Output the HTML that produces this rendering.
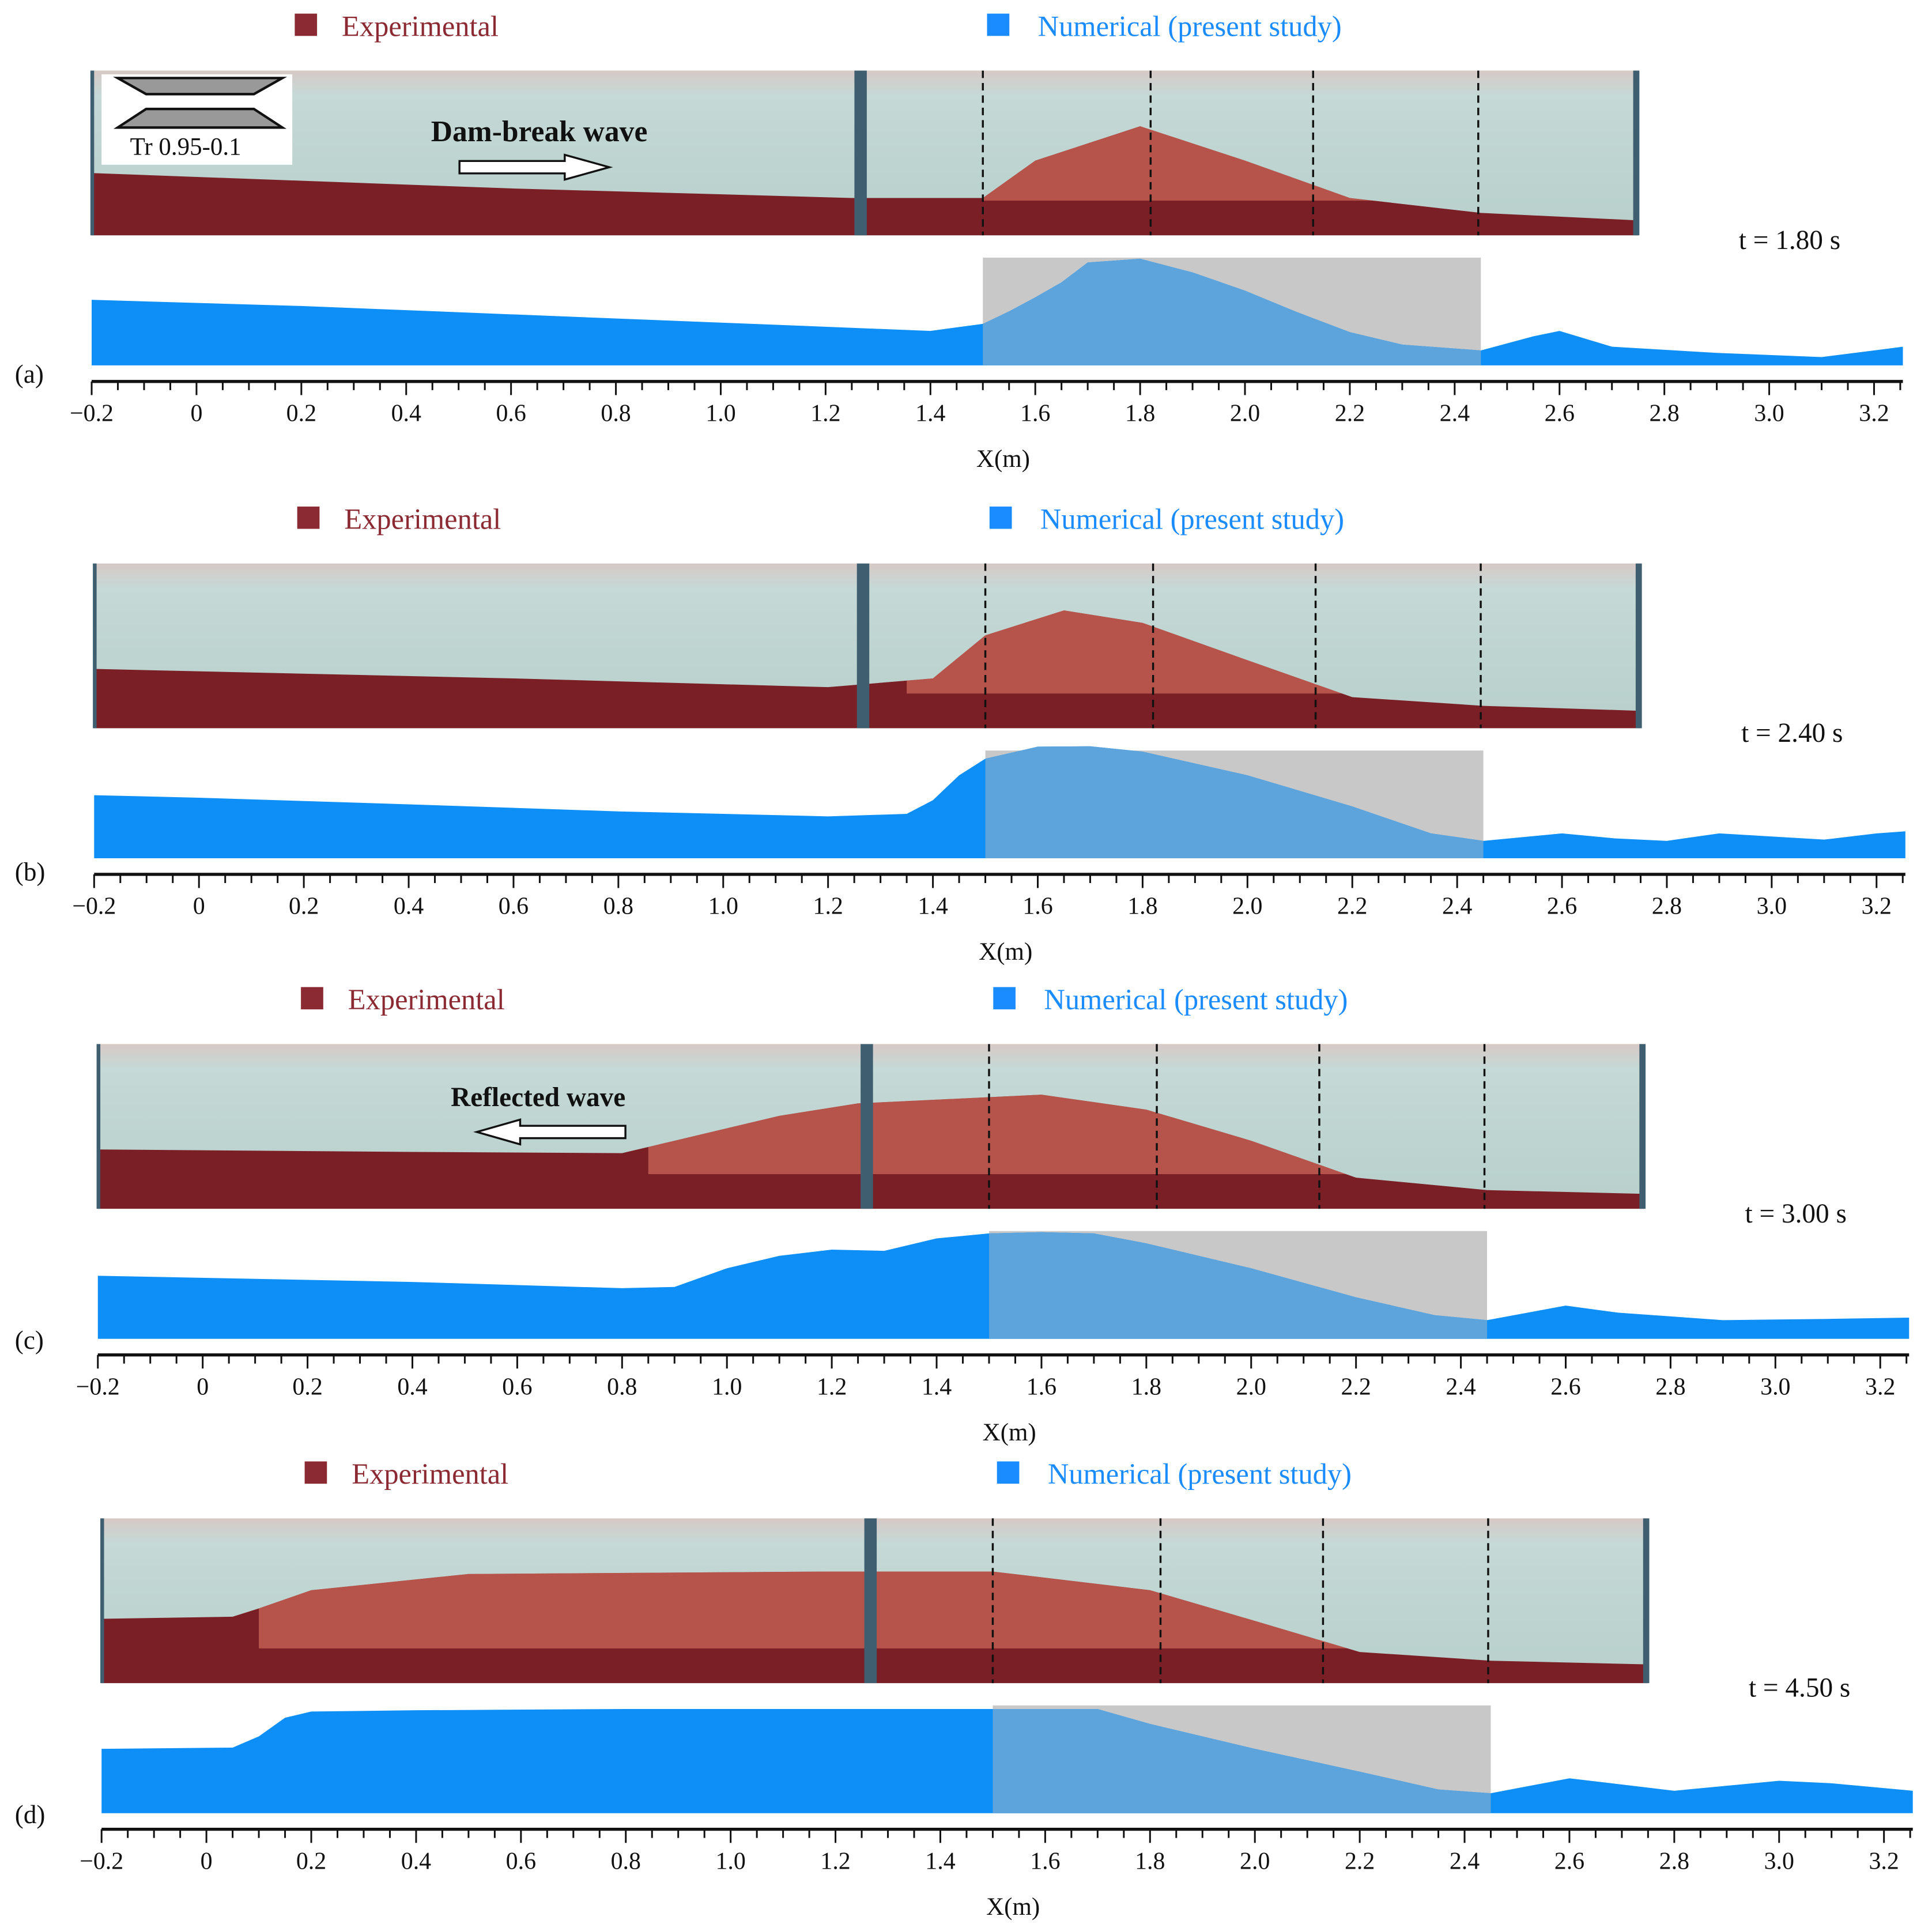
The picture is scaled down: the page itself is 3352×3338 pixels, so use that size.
<!DOCTYPE html>
<html><head><meta charset="utf-8">
<style>
html,body{margin:0;padding:0;background:#fff;}
svg{display:block;font-family:"Liberation Serif",serif;}
</style></head>
<body>
<svg id="fig" xmlns="http://www.w3.org/2000/svg" width="3352" height="3338" viewBox="0 0 1560 1553.5">
<defs>
<linearGradient id="tank" x1="0" y1="0" x2="0" y2="1">
<stop offset="0" stop-color="#d7c9c6"/><stop offset="0.15" stop-color="#c5d9d6"/><stop offset="1" stop-color="#b7cfcb"/>
</linearGradient>
</defs>
</svg>
<script>
// ---------- data ----------
const panelLabels = ["(a)","(b)","(c)","(d)"];
const timeLabels = ["t = 1.80 s","t = 2.40 s","t = 3.00 s","t = 4.50 s"];
const tickValues = [-0.2,0,0.2,0.4,0.6,0.8,1.0,1.2,1.4,1.6,1.8,2.0,2.2,2.4,2.6,2.8,3.0,3.2];
const tickLabels = ["\u22120.2","0","0.2","0.4","0.6","0.8","1.0","1.2","1.4","1.6","1.8","2.0","2.2","2.4","2.6","2.8","3.0","3.2"];
const dashedX = [1.5, 1.82, 2.13, 2.445];
// numerical surface (x in m, depth in cm)
const numXa = [-0.2,0.2,0.6,1.0,1.4,1.5,1.55,1.6,1.65,1.7,1.8,1.9,2.0,2.1,2.2,2.3,2.45,2.55,2.6,2.7,2.9,3.1,3.2,3.255];
const numHa = [15.8,14.3,12.3,10.3,8.3,10,13,16.4,20,24.8,25.7,22.4,18,12.8,8,5,3.6,7,8.3,4.5,3,2,3.6,4.5];
const numXb = [-0.2,0,0.4,0.8,1.2,1.35,1.4,1.45,1.5,1.6,1.7,1.8,2.0,2.2,2.35,2.45,2.6,2.7,2.8,2.9,3.1,3.2,3.255];
const numHb = [15.2,14.6,13,11.3,10.1,10.7,14,20,24,26.9,27,25.7,20,12.5,6,4.2,6,4.8,4.2,6,4.5,6,6.5];
const numXc = [-0.2,0.4,0.8,0.9,1.0,1.1,1.2,1.3,1.4,1.5,1.6,1.7,1.8,2.0,2.2,2.35,2.45,2.6,2.7,2.9,3.1,3.255];
const numHc = [15.2,13.7,12.2,12.5,17,20,21.5,21.2,24.2,25.4,25.7,25.4,23,17,10,5.7,4.5,8,6.3,4.5,4.8,5.1];
const numXd = [-0.2,0.05,0.1,0.15,0.2,0.4,0.8,1.2,1.5,1.7,1.8,2.0,2.2,2.35,2.45,2.6,2.8,3.0,3.1,3.255];
const numHd = [15.5,15.8,18.5,23,24.5,24.8,25.1,25.1,25.1,25.1,21.5,15.5,10,5.7,4.8,8.4,5.4,7.8,7.2,5.4];
// experimental photo profile (x in m, height in cm)
const expXa = [-0.2,0.6,1.25,1.5,1.6,1.8,2.0,2.2,2.45,2.75];
const expHa = [15,11.3,9,9,18,26.3,18,9,5.4,3.6];
const expXb = [-0.2,0.6,1.2,1.4,1.5,1.65,1.8,2.0,2.2,2.45,2.75];
const expHb = [14.3,12,9.9,12,22.4,28.4,25.4,16.4,7.5,5.4,4.2];
const expXc = [-0.2,0.4,0.8,0.9,1.1,1.25,1.5,1.6,1.8,2.0,2.2,2.45,2.75];
const expHc = [14.3,13.7,13.4,16.4,22.4,25.4,26.9,27.5,23.9,16.4,7.5,4.5,3.6];
const expXd = [-0.2,0.05,0.1,0.2,0.5,1.2,1.5,1.8,2.0,2.2,2.45,2.75];
const expHd = [15.5,16,18,22.4,26.3,26.9,26.9,22.4,15,7.5,5.4,4.5];

const numX=[numXa,numXb,numXc,numXd], numH=[numHa,numHb,numHc,numHd];
const expX=[expXa,expXb,expXc,expXd], expH=[expHa,expHb,expHc,expHd];

// ---------- layout ----------
const NS="http://www.w3.org/2000/svg";
const svg=document.getElementById('fig');
const offX=[74,76,79,82], offY=[0,398,786,1169];
const PXM=423.3, PXCM=3.35;
function mk(tag,attrs,parent){const e=document.createElementNS(NS,tag);for(const k in attrs)e.setAttribute(k,attrs[k]);(parent||svg).appendChild(e);return e;}

for(let p=0;p<4;p++){
  const g=mk('g',{});
  
  
  const ox=offX[p], oy=offY[p];
  const xs=v=>ox+(v+0.2)*PXM;
  // legend
  const l1=mk('rect',{x:ox+164,y:oy+11,width:18,height:18,fill:'#8b2a32'},g);
  
  
  const t1=mk('text',{x:ox+202,y:oy+29,'font-size':23.5,fill:'#8b2a32'},g);t1.textContent='Experimental';
  
  
  const l2=mk('rect',{x:ox+723,y:oy+11,width:18,height:18,fill:'#1a8cff'},g);
  
  
  const t2=mk('text',{x:ox+764,y:oy+29,'font-size':23.5,fill:'#1a8cff'},g);t2.textContent='Numerical (present study)';
  
  
  // photo
  const pTop=oy+57, pBot=oy+190, pL=xs(-0.2)-1, pR=xs(2.75);
  const ph=mk('rect',{x:pL,y:pTop,width:pR-pL,height:pBot-pTop,fill:'url(#tank)'},g);
  
  
  const py=h=>pBot-h*PXCM;
  let d='M'+xs(expX[p][0])+','+pBot;
  expX[p].forEach((x,i)=>d+=' L'+xs(x)+','+py(expH[p][i]));
  d+=' L'+xs(expX[p][expX[p].length-1])+','+pBot+' Z';
  const ew=mk('path',{d:d,fill:'#7a1f26'},g);
  
  
  const cp=mk('clipPath',{id:'clipP'+p},g);
  const hiStart=[1.5,1.35,0.85,0.1][p];
  mk('rect',{x:xs(hiStart),y:pTop,width:pR-xs(hiStart),height:pBot-pTop-28},cp);
  const hl=mk('path',{d:d,fill:'#e8806a',opacity:0.55,'clip-path':'url(#clipP'+p+')'},g);
  
  
  // posts and frame
  mk('rect',{x:xs(1.255),y:pTop,width:10,height:pBot-pTop,fill:'#3f5f70'},g);
  mk('rect',{x:pL,y:pTop,width:3,height:pBot-pTop,fill:'#3f5f70'},g);
  mk('rect',{x:pR-4,y:pTop,width:5,height:pBot-pTop,fill:'#3f5f70'},g);
  dashedX.forEach(x=>{const ln=mk('line',{x1:xs(x),y1:pTop,x2:xs(x),y2:pBot,stroke:'#111','stroke-width':1.6,'stroke-dasharray':'6,4'},g);
    
    });
  // time label
  const tl=mk('text',{x:ox+1330,y:oy+201,'font-size':22,fill:'#111'},g);tl.textContent=timeLabels[p];
  
  
  // numerical
  const nBot=oy+295, ny=h=>nBot-h*PXCM;
  const gr=mk('rect',{x:xs(1.5),y:oy+208,width:xs(2.45)-xs(1.5),height:87,fill:'#c8c8c8'},g);
  
  
  let nd='M'+xs(numX[p][0])+','+nBot;
  numX[p].forEach((x,i)=>nd+=' L'+xs(x)+','+ny(numH[p][i]));
  nd+=' L'+xs(numX[p][numX[p].length-1])+','+nBot+' Z';
  const na=mk('path',{d:nd,fill:'#0d8ff7'},g);
  
  
  const cq=mk('clipPath',{id:'clipN'+p},g);
  mk('rect',{x:xs(1.5),y:oy+190,width:xs(2.45)-xs(1.5),height:110},cq);
  const nb=mk('path',{d:nd,fill:'#5da4dc','clip-path':'url(#clipN'+p+')'},g);
  
  
  // axis
  const ay=oy+308;
  const ax=mk('line',{x1:xs(-0.2),y1:ay,x2:xs(3.255),y2:ay,stroke:'#111','stroke-width':2.5},g);
  
  
  for(let k=0;k<=69;k++){const v=-0.2+k*0.05;const major=k%4===0;
    mk('line',{x1:xs(v),y1:ay,x2:xs(v),y2:ay+(major?11:7),stroke:'#111','stroke-width':1.4},g);}
  tickValues.forEach((v,i)=>{const t=mk('text',{x:xs(v),y:ay+32,'font-size':19.5,'text-anchor':'middle',fill:'#111'},g);t.textContent=tickLabels[i];
    
    });
  const xt=mk('text',{x:ox+736,y:oy+377,'font-size':20,'text-anchor':'middle',fill:'#111'},g);xt.textContent='X(m)';
  
  
  const pl=mk('text',{x:12,y:oy+[309,313,303,303][p],'font-size':21,fill:'#111'},g);pl.textContent=panelLabels[p];
  
  
}
// inset in (a)
const ins=mk('g',{});


mk('rect',{x:82,y:60,width:154,height:73,fill:'#fff'},ins);
mk('polygon',{points:'95,63 228,63 205,76 118,76',fill:'#999',stroke:'#111','stroke-width':2},ins);
mk('polygon',{points:'118,88 205,88 228,103 95,103',fill:'#999',stroke:'#111','stroke-width':2},ins);
const it=mk('text',{x:105,y:125,'font-size':20,fill:'#111'},ins);it.textContent='Tr 0.95-0.1';
// annotations
const a1=mk('text',{x:348,y:114,'font-size':24,'font-weight':'bold',fill:'#111'});a1.textContent='Dam-break wave';


const ar1=mk('polygon',{points:'371,130 456,130 456,125 492,135 456,145 456,140 371,140',fill:'#fff',stroke:'#111','stroke-width':1.6});


const a2=mk('text',{x:364,y:893,'font-size':22,'font-weight':'bold',fill:'#111'});a2.textContent='Reflected wave';


const ar2=mk('polygon',{points:'505,909 420,909 420,904 385,914 420,924 420,919 505,919',fill:'#fff',stroke:'#111','stroke-width':1.6});


</script>
</body></html>
